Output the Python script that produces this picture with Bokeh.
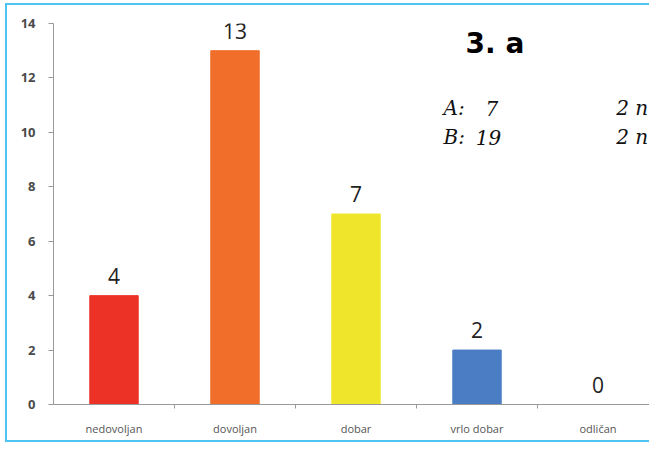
from bokeh.plotting import figure
from bokeh.models import ColumnDataSource, FixedTicker, Range1d, Label
from bokeh.core.properties import value
from bokeh.embed import file_html
from bokeh.resources import INLINE

# ---- data ----
categories = ["nedovoljan", "dovoljan", "dobar", "vrlo dobar", "odličan"]
counts = [4, 13, 7, 2, 0]
bar_colors = ["#ec3127", "#f06d2a", "#efe62c", "#4b7dc5", "#4b7dc5"]
y_ticks = [0, 2, 4, 6, 8, 10, 12, 14]

xs = list(range(len(categories)))
source = ColumnDataSource(dict(
    x=xs,
    top=counts,
    color=bar_colors,
    label=[str(c) for c in counts],
))

p = figure(
    width=644, height=439,
    output_backend="svg", toolbar_location=None,
    x_range=Range1d(-0.5, 4.442), y_range=Range1d(0, 14),
    min_border_left=46, min_border_top=18, min_border_bottom=40, min_border_right=0,
)
p.styles = {
    "margin-left": "5px",
    "margin-top": "3px",
    "border-top": "2px solid #4ec4f2",
    "border-left": "2px solid #4ec4f2",
    "border-bottom": "2px solid #4ec4f2",
}
p.outline_line_color = None
p.xgrid.visible = False
p.ygrid.visible = False
p.background_fill_color = "white"
p.border_fill_color = "white"

p.vbar(x="x", top="top", width=0.4, color="color", source=source)
p.text(x="x", y="top", text="label", source=source,
       text_align="center", text_baseline="alphabetic", y_offset=-20,
       text_font=value("Open Sans"), text_font_size="21px", text_color="#222222")

# x axis
xa = p.xaxis[0]
xa.ticker = FixedTicker(ticks=xs, minor_ticks=[i + 0.5 for i in xs[:-1]])
xa.major_label_overrides = {i: c for i, c in zip(xs, categories)}
xa.major_tick_out = 0
xa.major_tick_in = 0
xa.minor_tick_out = 4
xa.minor_tick_in = 0
xa.minor_tick_line_color = "#999999"
xa.axis_line_color = "#999999"
xa.major_label_standoff = 12
xa.major_label_text_font = "Open Sans"
xa.major_label_text_font_size = "11px"
xa.major_label_text_color = "#555555"

# y axis
ya = p.yaxis[0]
ya.ticker = FixedTicker(ticks=y_ticks)
ya.major_tick_out = 5
ya.major_tick_in = 0
ya.minor_tick_out = 0
ya.minor_tick_in = 0
ya.axis_line_color = "#999999"
ya.major_tick_line_color = "#999999"
ya.major_label_standoff = 13
ya.major_label_text_font = "Open Sans"
ya.major_label_text_font_style = "bold"
ya.major_label_text_font_size = "13px"
ya.major_label_text_color = "#4a4a4a"

# overlapping page text from the scan
p.add_layout(Label(x=2.905, y=13.27, text="3. a", text_font="DejaVu Sans",
                   text_font_style="bold", text_font_size="28px",
                   text_color="#000000", text_baseline="middle"))
for txt, xx, yy in [("A:", 2.723, 10.88), ("7", 3.07, 10.88), ("2 n", 4.15, 10.88),
                    ("B:", 2.723, 9.82), ("19", 2.99, 9.82), ("2 n", 4.15, 9.82)]:
    p.add_layout(Label(x=xx, y=yy, text=txt, text_font="DejaVu Serif",
                       text_font_style="italic", text_font_size="20px",
                       text_color="#111111", text_baseline="middle"))

open("out.html", "w").write(file_html(p, INLINE))
